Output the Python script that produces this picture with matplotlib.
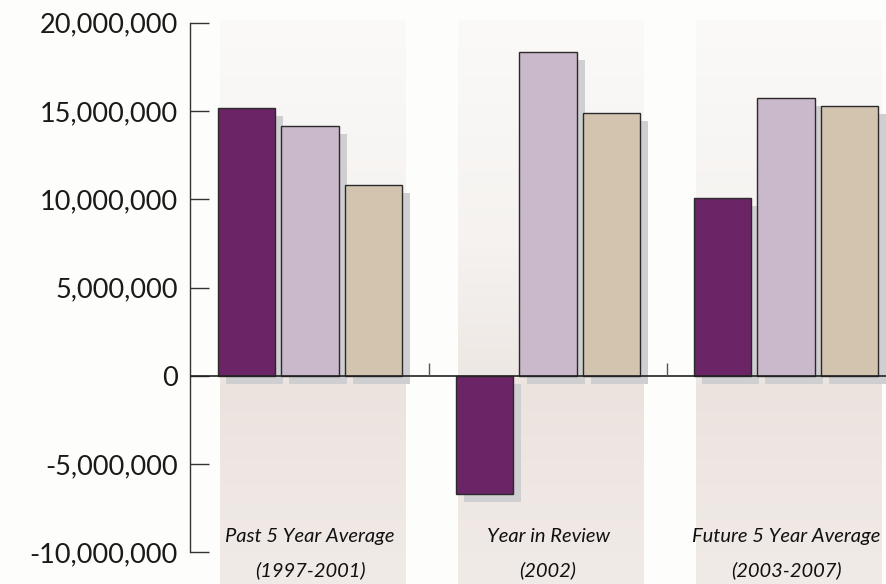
import numpy as np
import matplotlib
matplotlib.use("Agg")
import matplotlib.pyplot as plt
import matplotlib.transforms as mtransforms
from matplotlib.colors import LinearSegmentedColormap
from matplotlib.ticker import FuncFormatter, MultipleLocator

# data
groups = ["Past 5 Year Average", "Year in Review", "Future 5 Year Average"]
periods = ["(1997-2001)", "(2002)", "(2003-2007)"]
series_a = [15.15e6, -6.7e6, 10.1e6]
series_b = [14.15e6, 18.35e6, 15.75e6]
series_c = [10.8e6, 14.9e6, 15.3e6]

colors = ["#6b2567", "#cab8cb", "#d3c4b0"]

plt.rcParams["font.family"] = ["Lato", "DejaVu Sans"]

fig = plt.figure(figsize=(8.86, 5.84), dpi=100, facecolor="#fdfdfc")
ax = fig.add_axes([0.2148, 0.054, 0.7852, 0.907])
ax.set_facecolor("none")

x = np.arange(len(groups))
w = 0.2416
step = 0.2668

# background bands with vertical gradient
band_cmap = LinearSegmentedColormap.from_list(
    "band", [(0.0, "#f1ebe8"), (0.35, "#ebe3de"), (0.37, "#eee8e4"),
             (0.6, "#f5f2ef"), (1.0, "#fbfaf9")])
grad = np.linspace(0, 1, 256).reshape(-1, 1)
for c in x:
    im = ax.imshow(grad, extent=[c - 0.38, c + 0.40, -11.8e6, 20.15e6],
                   origin="lower", cmap=band_cmap, aspect="auto", zorder=0)
    im.set_clip_on(False)

# bars with drop shadows
shadow = ax.transData + mtransforms.ScaledTranslation(8 / 100, -8 / 100, fig.dpi_scale_trans)
for i, vals in enumerate([series_a, series_b, series_c]):
    pos = x + (i - 1) * step
    ax.bar(pos, vals, w, color="#cfcfd2", linewidth=0, transform=shadow, zorder=1)
    ax.bar(pos, vals, w, color=colors[i], edgecolor="#2a2a2a", linewidth=1.0, zorder=2)

ax.axhline(0, color="#222222", lw=1.2, zorder=3)
ax.vlines([0.5, 1.5], 0, 0.75e6, color="#555555", lw=1, zorder=3)

for c, g, p in zip(x, groups, periods):
    ax.text(c, -9.12e6, g, ha="center", va="center", fontsize=14.5, style="italic", color="#111111")
    ax.text(c, -10.98e6, p, ha="center", va="center", fontsize=14.5, style="italic",
            color="#111111", clip_on=False)

ax.set_xlim(-0.503, 2.42)
ax.set_ylim(-10e6, 20e6)
ax.yaxis.set_major_locator(MultipleLocator(5e6))
ax.yaxis.set_major_formatter(FuncFormatter(lambda v, _: f"{int(round(v)):,}"))
ax.set_xticks([])
ax.tick_params(axis="y", direction="in", length=13.5, width=1, color="#333333",
               labelsize=19.5, labelcolor="#1a1a1a", pad=9)
for s in ["top", "right", "bottom"]:
    ax.spines[s].set_visible(False)
ax.spines["left"].set_color("#333333")
ax.spines["left"].set_linewidth(1)

fig.savefig("out.png", dpi=100, facecolor=fig.get_facecolor())
